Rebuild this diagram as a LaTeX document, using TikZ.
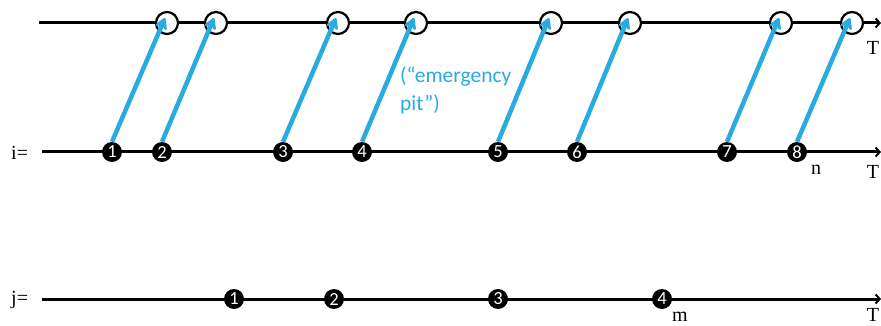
\documentclass[tikz,border=0pt]{standalone}
\usepackage{fontspec}
\setmainfont{Liberation Serif}
\newfontfamily\numfont{Carlito}
\usetikzlibrary{arrows.meta}
\definecolor{skyblue}{HTML}{29ABE2}
\begin{document}
\begin{tikzpicture}[x=1pt,y=-1pt,
  axis/.style={line width=3pt,-{Straight Barb[length=4pt,width=9pt,line width=2pt]}},
  openev/.style={circle,draw=black,fill=white,line width=2.2pt,minimum size=22pt,inner sep=0pt},
  filledev/.style={circle,fill=black,minimum size=20pt,inner sep=0pt,text=white,font=\numfont\fontsize{18.5}{18.5}\selectfont},
  jump/.style={skyblue,line width=4.5pt,-{Stealth[length=14pt,width=16pt,inset=5pt,round]}},
  lbl/.style={font=\fontsize{20}{20}\selectfont,inner sep=0pt}
]
\useasboundingbox (0,0) rectangle (881,326);

% time axes
\coordinate (topstart) at (39,23);
\coordinate (topend) at (881,23);
\coordinate (istart) at (42,152);
\coordinate (iend) at (881,152);
\coordinate (jstart) at (42,299);
\coordinate (jend) at (881,299);
\draw[axis] (topstart) -- (topend);
\draw[axis] (istart) -- (iend);
\draw[axis] (jstart) -- (jend);

% open events on the upper axis
\foreach \k/\x in {1/167,2/216,3/338,4/416,5/551,6/630,7/781,8/852}
  \node[openev] (o\k) at (\x,23) {};

% numbered events on the i axis
\foreach \k/\x in {1/112,2/162,3/283,4/362,5/498,6/577,7/727,8/797}
  \node[filledev] (i\k) at (\x,152) {\k};

% numbered events on the j axis
\foreach \k/\x in {1/234,2/334,3/498,4/662}
  \node[filledev] (j\k) at (\x,299) {\k};

% jumps from the i axis to the upper axis
\foreach \k in {1,...,8}
  \draw[jump] (i\k.north) -- ([xshift=-2pt,yshift=5pt]o\k.center);

% labels
\node[lbl,anchor=west] (ilabel) at (11,153) {i=};
\node[lbl,anchor=west] (jlabel) at (11,300) {j=};
\node[lbl] (t1) at (873,48) {T};
\node[lbl] (t2) at (873,172) {T};
\node[lbl,anchor=base] (t3) at (873,321) {T};
\node[lbl] (nlabel) at (816,170) {n};
\node[lbl,anchor=base] (mlabel) at (680,321) {m};
\node[anchor=west,align=left,text=skyblue,inner sep=0pt,
      font=\numfont\fontsize{21.5}{28}\selectfont] (pit) at (400,90) {(“emergency\\pit”)};
\end{tikzpicture}
\end{document}
